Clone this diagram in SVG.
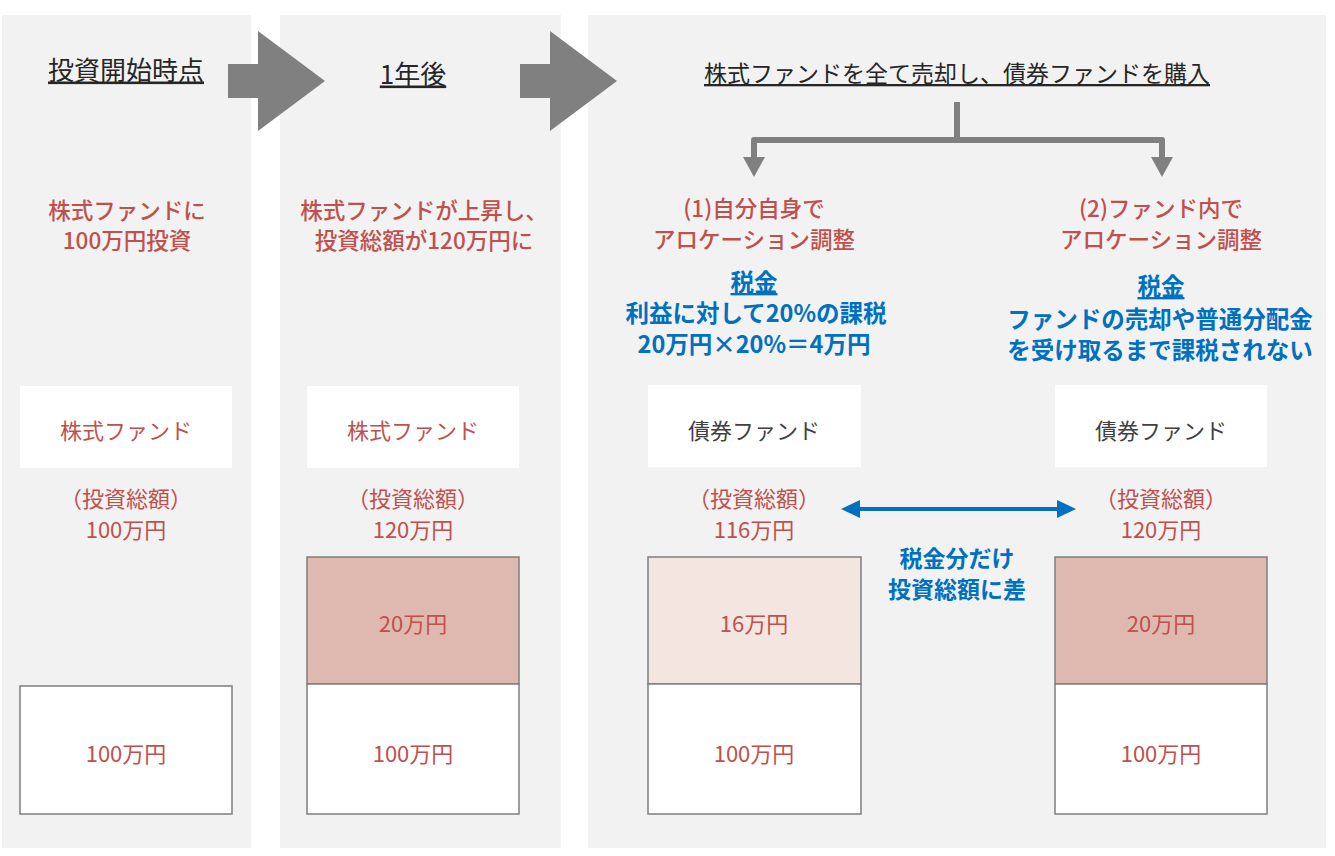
<svg xmlns="http://www.w3.org/2000/svg" width="1335" height="856" viewBox="0 0 1335 856">
<defs>
<style>
text{font-family:"Noto Sans CJK JP","Noto Sans CJK SC",sans-serif;text-anchor:middle;dominant-baseline:central}
.panel{fill:#F2F2F2}
.head{font-size:26px;fill:#262626;text-decoration:underline}
.title{font-size:23px;fill:#262626;text-decoration:underline}
.cap{font-size:22.5px;fill:#C0504D;font-weight:500}
.red{font-size:22px;fill:#C0504D}
.blue{font-size:23.5px;fill:#0070C0;font-weight:bold}
.note{font-size:23px}
.ul{text-decoration:underline}
.dark{font-size:22px;fill:#404040}
.label{fill:#FFFFFF}
.bar{stroke:#7F7F7F;stroke-width:1.5}
.white{fill:#FFFFFF}
.pink{fill:#DFB9B0}
.lpink{fill:#F3E6E0}
.big{fill:#808080}
</style>
<marker id="gh" viewBox="0 0 20 22" refX="0" refY="11" markerWidth="20" markerHeight="22" markerUnits="userSpaceOnUse" orient="auto"><path d="M0 0 L20 11 L0 22 Z" fill="#808080"/></marker>
<marker id="bh" viewBox="0 0 19 18" refX="0" refY="9" markerWidth="19" markerHeight="18" markerUnits="userSpaceOnUse" orient="auto-start-reverse"><path d="M0 0 L19 9 L0 18 Z" fill="#0070C0"/></marker>
</defs>
<rect width="1335" height="856" fill="#FFFFFF"/>

<g id="panel1">
<rect class="panel" x="2" y="15" width="249" height="833"/>
<text class="head" x="126" y="68">投資開始時点</text>
<text class="cap"><tspan x="127" y="209">株式ファンドに</tspan><tspan x="127" y="239">100万円投資</tspan></text>
</g>
<g id="panel2">
<rect class="panel" x="280" y="15" width="281" height="833"/>
<text class="head" x="413" y="72">1年後</text>
<text class="cap"><tspan x="424" y="209">株式ファンドが上昇し、</tspan><tspan x="424" y="239">投資総額が120万円に</tspan></text>
</g>
<g id="panel3">
<rect class="panel" x="588" y="15" width="738" height="833"/>
<text class="title" x="957" y="72">株式ファンドを全て売却し、債券ファンドを購入</text>
</g>

<g id="block-arrows">
<polygon class="big" points="228,64 258,64 258,31 325,81 258,131 258,98 228,98"/>
<polygon class="big" points="520,64 550,64 550,31 617,81 550,131 550,98 520,98"/>
</g>

<g id="connectors" fill="none">
<path d="M957 102 V140 M754 157 V140 H1162 V157" stroke="#808080" stroke-width="6" stroke-linejoin="round"/>
<path d="M754 150 V157" stroke="#808080" stroke-width="6" marker-end="url(#gh)"/>
<path d="M1162 150 V157" stroke="#808080" stroke-width="6" marker-end="url(#gh)"/>
<path d="M860 509 H1057" stroke="#0070C0" stroke-width="4" marker-start="url(#bh)" marker-end="url(#bh)"/>
</g>

<g id="option1">
<text class="cap"><tspan x="754" y="207">(1)自分自身で</tspan><tspan x="754" y="238">アロケーション調整</tspan></text>
<text class="blue"><tspan class="ul" x="754" y="281">税金</tspan><tspan x="756" y="312">利益に対して20%の課税</tspan><tspan x="754" y="343">20万円×20%＝4万円</tspan></text>
</g>
<g id="option2">
<text class="cap"><tspan x="1161" y="207">(2)ファンド内で</tspan><tspan x="1161" y="238">アロケーション調整</tspan></text>
<text class="blue"><tspan class="ul" x="1161" y="285">税金</tspan><tspan x="1160" y="318">ファンドの売却や普通分配金</tspan><tspan x="1160" y="349">を受け取るまで課税されない</tspan></text>
</g>
<g id="diff-note">
<text class="blue note"><tspan x="957" y="557">税金分だけ</tspan><tspan x="957" y="588">投資総額に差</tspan></text>
</g>

<g id="fund1">
<rect class="label" x="20" y="386" width="212" height="82"/>
<text class="red" x="126" y="429">株式ファンド</text>
<text class="red"><tspan x="126" y="497">（投資総額）</tspan><tspan x="126" y="528">100万円</tspan></text>
</g>
<g id="fund2">
<rect class="label" x="307" y="386" width="212" height="82"/>
<text class="red" x="413" y="429">株式ファンド</text>
<text class="red"><tspan x="413" y="497">（投資総額）</tspan><tspan x="413" y="528">120万円</tspan></text>
</g>
<g id="fund3">
<rect class="label" x="648" y="385" width="213" height="82"/>
<text class="dark" x="754" y="429">債券ファンド</text>
<text class="red"><tspan x="754" y="497">（投資総額）</tspan><tspan x="754" y="528">116万円</tspan></text>
</g>
<g id="fund4">
<rect class="label" x="1055" y="385" width="212" height="82"/>
<text class="dark" x="1161" y="429">債券ファンド</text>
<text class="red"><tspan x="1161" y="497">（投資総額）</tspan><tspan x="1161" y="528">120万円</tspan></text>
</g>

<g id="bar1">
<rect class="bar white" x="20" y="686" width="212" height="128"/>
<text class="red" x="126" y="752">100万円</text>
</g>
<g id="bar2">
<rect class="bar pink" x="307" y="557" width="212" height="127"/>
<text class="red" x="413" y="622">20万円</text>
<rect class="bar white" x="307" y="684" width="212" height="130"/>
<text class="red" x="413" y="752">100万円</text>
</g>
<g id="bar3">
<rect class="bar lpink" x="648" y="557" width="213" height="127"/>
<text class="red" x="754" y="622">16万円</text>
<rect class="bar white" x="648" y="684" width="213" height="130"/>
<text class="red" x="754" y="752">100万円</text>
</g>
<g id="bar4">
<rect class="bar pink" x="1055" y="557" width="212" height="127"/>
<text class="red" x="1161" y="622">20万円</text>
<rect class="bar white" x="1055" y="684" width="212" height="130"/>
<text class="red" x="1161" y="752">100万円</text>
</g>
</svg>
